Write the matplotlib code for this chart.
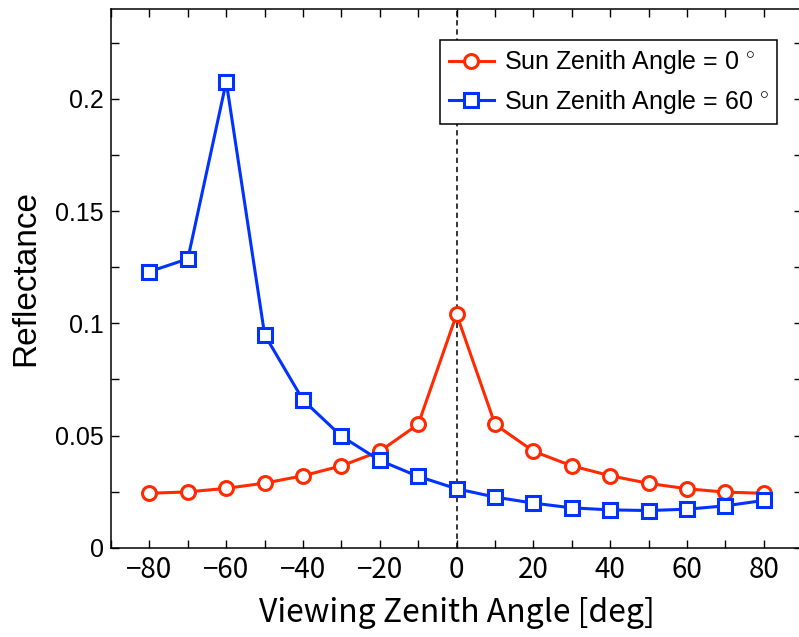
import matplotlib as mpl
mpl.use('Agg')
import matplotlib.pyplot as plt
from matplotlib.ticker import MultipleLocator, FixedLocator

# viewing zenith angle [deg]
vza = [-80, -70, -60, -50, -40, -30, -20, -10, 0, 10, 20, 30, 40, 50, 60, 70, 80]

# reflectance for sun zenith angle 0 deg
refl_sza0 = [0.0243, 0.0249, 0.0265, 0.0288, 0.0321, 0.0365, 0.0430, 0.0550, 0.1040,
             0.0550, 0.0430, 0.0365, 0.0321, 0.0287, 0.0263, 0.0248, 0.0243]
# reflectance for sun zenith angle 60 deg
refl_sza60 = [0.1230, 0.1287, 0.2076, 0.0949, 0.0658, 0.0497, 0.0389, 0.0318, 0.0263,
              0.0226, 0.0199, 0.0178, 0.0169, 0.0166, 0.0172, 0.0187, 0.0211]

ytick_vals = [0, 0.05, 0.1, 0.15, 0.2]
ytick_labels = ['0', '0.05', '0.1', '0.15', '0.2']
xtick_vals = [-80, -60, -40, -20, 0, 20, 40, 60, 80]

font_jp = ['Noto Sans CJK JP', 'DejaVu Sans']
font_en = ['Liberation Sans', 'DejaVu Sans']


def main():
    mpl.rcParams['font.family'] = font_en
    mpl.rcParams['axes.unicode_minus'] = True
    mpl.rcParams['mathtext.fontset'] = 'custom'
    mpl.rcParams['mathtext.rm'] = 'Liberation Sans'

    fig = plt.figure(figsize=(7.99, 6.37), dpi=100)
    ax = fig.add_axes([0.139, 0.140, 0.865, 0.846])

    ax.axvline(0, color='k', ls=(0, (3.5, 2.5)), lw=1.1)

    ax.plot(vza, refl_sza0, color='#ff2a00', lw=2.2, marker='o', ms=10,
            mfc='white', mew=2.2, label='Sun Zenith Angle = 0 $^{\\circ}$')
    ax.plot(vza, refl_sza60, color='#0033ff', lw=2.2, marker='s', ms=10,
            mfc='white', mew=2.2, label='Sun Zenith Angle = 60 $^{\\circ}$')

    ax.set_xlim(-90, 90)
    ax.set_ylim(0, 0.24)

    ax.xaxis.set_major_locator(FixedLocator(xtick_vals))
    ax.xaxis.set_minor_locator(MultipleLocator(10))
    ax.yaxis.set_major_locator(FixedLocator(ytick_vals))
    ax.set_yticklabels(ytick_labels)
    ax.yaxis.set_minor_locator(MultipleLocator(0.025))
    ax.tick_params(which='both', direction='in', top=True, right=True,
                   length=5.5, width=1)
    ax.tick_params(axis='y', labelsize=18, pad=5)
    ax.tick_params(axis='x', labelsize=20, pad=5)
    for lab in ax.get_xticklabels():
        lab.set_family(font_jp)

    for sp in ax.spines.values():
        sp.set_linewidth(1.1)

    ax.set_xlabel('Viewing Zenith Angle [deg]', fontsize=23, labelpad=9,
                  family=font_jp)
    ax.set_ylabel('Reflectance', fontsize=24, labelpad=10)

    leg = ax.legend(loc='upper right', bbox_to_anchor=(0.964, 0.943), fontsize=18,
                    frameon=True, fancybox=False, edgecolor='k', framealpha=1,
                    handlelength=1.8, handletextpad=0.4, borderpad=0.35,
                    borderaxespad=0, labelspacing=0.45)
    leg.get_frame().set_linewidth(1.1)

    fig.savefig('out.png', dpi=100)


main()
